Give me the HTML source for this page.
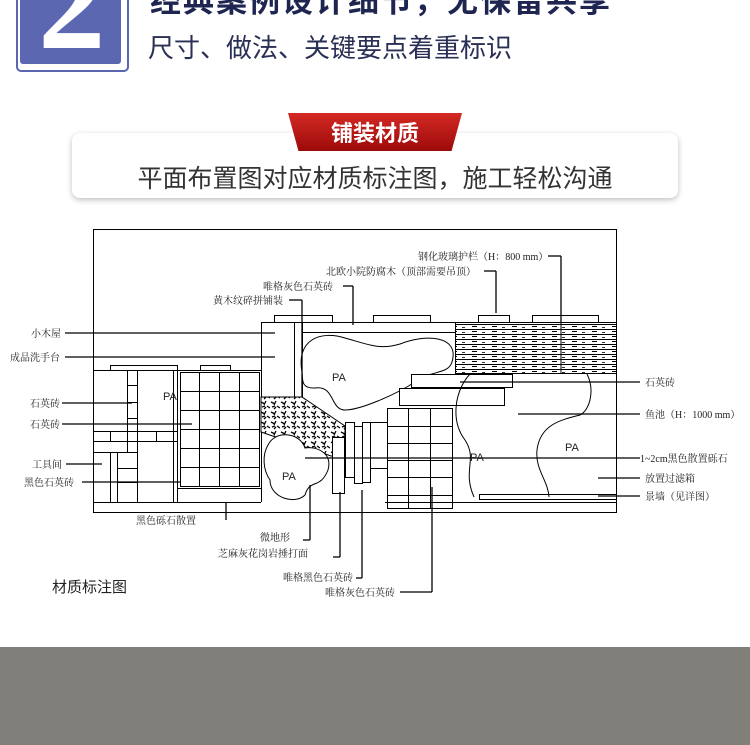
<!DOCTYPE html>
<html><head><meta charset="utf-8"><style>
html,body{margin:0;padding:0;background:#fff;}
body{width:750px;height:745px;position:relative;overflow:hidden;font-family:"Liberation Sans","Noto Sans CJK SC",sans-serif;}
.abs{position:absolute;}
</style></head><body>
<!-- header icon -->
<div class="abs" style="left:16px;top:-6px;width:109px;height:74px;border:2px solid #5a66ad;border-radius:5px;background:#fff;"></div>
<div class="abs" style="left:20px;top:-6px;width:101px;height:70px;background:#5c67b2;border-radius:3px;overflow:hidden;">
<div style="position:absolute;left:18px;top:-58px;font:bold 135px 'Liberation Serif',serif;color:#fff;line-height:1;">2</div></div>
<div class="abs" style="left:150px;top:-24px;font:bold 31px 'Liberation Sans','Noto Sans CJK SC',sans-serif;color:#1e2550;letter-spacing:2px;white-space:nowrap;">经典案例设计细节，无保留共享</div>
<div class="abs" style="left:148px;top:28px;font:26px 'Liberation Sans','Noto Sans CJK SC',sans-serif;color:#2a2f55;white-space:nowrap;">尺寸、做法、关键要点着重标识</div>
<!-- card -->
<div class="abs" style="left:72px;top:133px;width:606px;height:65px;background:#fff;border-radius:8px;box-shadow:0 2px 6px rgba(0,0,0,0.25);"></div>
<div class="abs" style="left:288px;top:113px;width:174px;height:38px;background:linear-gradient(#d42a24,#9c0a0a);clip-path:polygon(0 0,100% 0,94% 100%,6% 100%);"></div>
<div class="abs" style="left:288px;top:116px;width:174px;text-align:center;font:bold 22px 'Liberation Sans','Noto Sans CJK SC',sans-serif;color:#fff;">铺装材质</div>
<div class="abs" style="left:72px;top:159px;width:606px;text-align:center;font:25px 'Liberation Sans','Noto Sans CJK SC',sans-serif;color:#333;">平面布置图对应材质标注图，施工轻松沟通</div>
<!-- gray bottom -->
<div class="abs" style="left:0;top:647px;width:750px;height:98px;background:#807f79;"></div>

<svg class="abs" style="left:0;top:0" width="750" height="745" viewBox="0 0 750 745">
<defs>
<pattern id="brick" width="20" height="5" patternUnits="userSpaceOnUse">
<rect width="20" height="5" fill="#fff"/><line x1="0" y1="4.5" x2="20" y2="4.5" stroke="#000" stroke-width="1"/>
<line x1="12" y1="1.5" x2="17" y2="1.5" stroke="#000" stroke-width="1"/><line x1="2" y1="2.5" x2="5" y2="2.5" stroke="#000" stroke-width="0.8"/>
</pattern>
<pattern id="gravel" width="10" height="10" patternUnits="userSpaceOnUse">
<rect width="10" height="10" fill="#fff"/><path d="M1 2l4 2M6 1l-2 4M7 6l3 2M2 7l3 -1M4 9l2-2" stroke="#000" stroke-width="1.3"/>
</pattern>
</defs>
<g fill="none" stroke="#000" stroke-width="1">
<rect x="93.5" y="229.5" width="523" height="283"/>
<rect x="274.5" y="315.5" width="58" height="7"/><rect x="373.5" y="315.5" width="57" height="7"/>
<rect x="478.5" y="315.5" width="31" height="7"/><rect x="532.5" y="315.5" width="66" height="7"/>
<line x1="261" y1="322.5" x2="616" y2="322.5"/>
<rect x="261.5" y="322.5" width="33" height="75"/>
<line x1="294.5" y1="322" x2="294.5" y2="397"/><line x1="302.5" y1="322" x2="302.5" y2="397"/>
<line x1="302" y1="332.5" x2="455" y2="332.5"/>
<rect x="455.5" y="322.5" width="161" height="51" fill="url(#brick)"/>
<line x1="561" y1="322" x2="561" y2="373"/>
<rect x="110.5" y="365.5" width="67" height="5"/><rect x="200.5" y="365.5" width="30" height="5"/>
<line x1="93" y1="370.5" x2="261" y2="370.5"/>
<line x1="93" y1="502.5" x2="261" y2="502.5"/>
<line x1="127.5" y1="370" x2="127.5" y2="452"/><line x1="137.5" y1="370" x2="137.5" y2="502"/>
<line x1="173.5" y1="370" x2="173.5" y2="502"/><line x1="177.5" y1="370" x2="177.5" y2="502"/>
<line x1="127" y1="385.5" x2="137" y2="385.5"/><line x1="127" y1="402.5" x2="137" y2="402.5"/><line x1="127" y1="418.5" x2="137" y2="418.5"/>
<line x1="93" y1="431.5" x2="177" y2="431.5"/><line x1="93" y1="441.5" x2="177" y2="441.5"/>
<line x1="110.5" y1="431" x2="110.5" y2="441"/><line x1="156.5" y1="431" x2="156.5" y2="441"/>
<line x1="93" y1="452.5" x2="137" y2="452.5"/>
<line x1="110.5" y1="452" x2="110.5" y2="502"/><line x1="117.5" y1="452" x2="117.5" y2="502"/>
<line x1="117" y1="468.5" x2="137" y2="468.5"/><line x1="117" y1="482.5" x2="137" y2="482.5"/>
<rect x="180.5" y="372.5" width="79" height="114"/>
<line x1="199.5" y1="372" x2="199.5" y2="486"/><line x1="219.5" y1="372" x2="219.5" y2="486"/><line x1="239.5" y1="372" x2="239.5" y2="486"/>
<line x1="180" y1="391.5" x2="259" y2="391.5"/><line x1="180" y1="410.5" x2="259" y2="410.5"/><line x1="180" y1="429.5" x2="259" y2="429.5"/><line x1="180" y1="448.5" x2="259" y2="448.5"/><line x1="180" y1="467.5" x2="259" y2="467.5"/>
<line x1="177" y1="488.5" x2="261" y2="488.5"/>
<line x1="261.5" y1="397" x2="261.5" y2="502"/>
<polygon points="261,397 302,397 345,426 345,456 331,456 261,432" fill="url(#gravel)"/>
<path d="M302,372 C296,340 320,330 345,338 C370,345 380,350 400,344 C425,334 460,335 452,362 C448,375 430,370 415,382 C395,395 360,410 345,410 C330,410 335,385 315,388 C300,389 303,378 302,372 Z" fill="#fff"/>
<path d="M268,445 C275,430 300,432 305,448 C315,446 333,452 328,470 C320,490 310,478 305,495 C295,505 270,498 270,480 C263,470 262,455 268,445 Z" fill="#fff"/>
<rect x="332.5" y="437.5" width="12" height="56" fill="#fff"/>
<rect x="345.5" y="422.5" width="9" height="55" fill="#fff"/>
<rect x="354.5" y="426.5" width="8" height="57" fill="#fff"/>
<rect x="362.5" y="422.5" width="8" height="60"/>
<rect x="370.5" y="422.5" width="17" height="46"/>
<rect x="411.5" y="374.5" width="101" height="13" fill="#fff"/>
<rect x="399.5" y="388.5" width="105" height="17" fill="#fff"/>
<path d="M470,374 C455,390 450,420 465,440 C478,460 462,470 474,497" />
<path d="M587,374 C595,390 590,410 580,415 C560,420 540,425 537,450 C535,470 548,480 549,497"/>
<rect x="387.5" y="408.5" width="65" height="100" fill="#fff"/>
<line x1="408.5" y1="408" x2="408.5" y2="508"/><line x1="430.5" y1="408" x2="430.5" y2="508"/>
<line x1="387" y1="426.5" x2="452" y2="426.5"/><line x1="387" y1="443.5" x2="452" y2="443.5"/><line x1="387" y1="460.5" x2="452" y2="460.5"/><line x1="387" y1="477.5" x2="452" y2="477.5"/><line x1="387" y1="495.5" x2="452" y2="495.5"/>
<line x1="385" y1="502.5" x2="616" y2="502.5"/>
<rect x="479.5" y="494.5" width="137" height="5"/>
<g stroke-width="1.3">
<line x1="65" y1="333" x2="275" y2="333"/><line x1="65" y1="357" x2="275" y2="357"/>
<line x1="62" y1="403" x2="132" y2="403"/><line x1="62" y1="424" x2="192" y2="424"/>
<line x1="66" y1="464" x2="102" y2="464"/><line x1="82" y1="482" x2="180" y2="482"/>
<line x1="226" y1="503" x2="226" y2="520"/>
<line x1="548" y1="256" x2="561" y2="256"/><line x1="561" y1="256" x2="561" y2="322"/>
<line x1="484" y1="271" x2="496" y2="271"/><line x1="496" y1="271" x2="496" y2="313"/>
<line x1="343" y1="286" x2="353" y2="286"/><line x1="353" y1="286" x2="353" y2="325"/>
<line x1="289" y1="300" x2="302" y2="300"/><line x1="302" y1="300" x2="302" y2="397"/>
<line x1="460" y1="382" x2="640" y2="382"/><line x1="518" y1="414" x2="640" y2="414"/>
<line x1="305" y1="458" x2="640" y2="458"/><line x1="598" y1="478" x2="640" y2="478"/>
<line x1="598" y1="496" x2="640" y2="496"/>
<line x1="310" y1="485" x2="310" y2="540"/><line x1="310" y1="540" x2="303" y2="540"/>
<line x1="340" y1="492" x2="340" y2="557"/><line x1="340" y1="557" x2="333" y2="557"/>
<line x1="362" y1="490" x2="362" y2="578"/><line x1="362" y1="578" x2="356" y2="578"/>
<line x1="432" y1="487" x2="432" y2="592"/><line x1="432" y1="592" x2="400" y2="592"/>
</g>
</g>
<g font-family="'Liberation Serif','Noto Serif CJK SC',serif" font-size="10" fill="#222">
<text x="163" y="400" font-family="'Liberation Sans',sans-serif" font-size="11">PA</text>
<text x="332" y="381" font-family="'Liberation Sans',sans-serif" font-size="11">PA</text>
<text x="282" y="480" font-family="'Liberation Sans',sans-serif" font-size="11">PA</text>
<text x="470" y="461" font-family="'Liberation Sans',sans-serif" font-size="11">PA</text>
<text x="565" y="451" font-family="'Liberation Sans',sans-serif" font-size="11">PA</text>
<text x="418" y="260">钢化玻璃护栏（H：800 mm）</text>
<text x="326" y="275">北欧小院防腐木（顶部需要吊顶）</text>
<text x="263" y="290">唯格灰色石英砖</text>
<text x="213" y="304">黄木纹碎拼铺装</text>
<text x="31" y="337">小木屋</text>
<text x="10" y="361">成品洗手台</text>
<text x="30" y="407">石英砖</text>
<text x="30" y="428">石英砖</text>
<text x="32" y="468">工具间</text>
<text x="24" y="486">黑色石英砖</text>
<text x="645" y="386">石英砖</text>
<text x="645" y="418">鱼池（H：1000 mm）</text>
<text x="640" y="462">1~2cm黑色散置砾石</text>
<text x="645" y="482">放置过滤箱</text>
<text x="645" y="500">景墙（见详图）</text>
<text x="136" y="524">黑色砾石散置</text>
<text x="260" y="541">微地形</text>
<text x="218" y="557">芝麻灰花岗岩捶打面</text>
<text x="283" y="581">唯格黑色石英砖</text>
<text x="325" y="596">唯格灰色石英砖</text>
</g>
<text x="52" y="592" font-family="'Liberation Sans','Noto Sans CJK SC',sans-serif" font-size="15" fill="#222">材质标注图</text>
</svg>
</body></html>
